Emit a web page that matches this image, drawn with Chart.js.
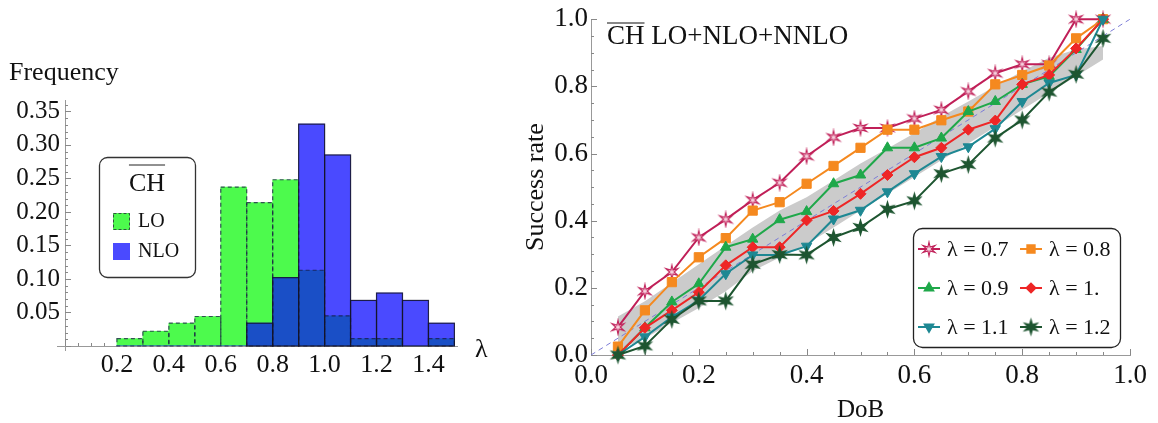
<!DOCTYPE html>
<html>
<head>
<meta charset="utf-8">
<script src="https://cdn.jsdelivr.net/npm/chart.js@4.4.1/dist/chart.umd.min.js"></script>
<style>
  body { margin: 0; background: #fff; width: 1158px; height: 423px; overflow: hidden; position: relative; }
  canvas { position: absolute; top: 0; }
  #hist { left: 0; }
  #rate { left: 500px; }
</style>
</head>
<body>
<canvas id="hist" width="500" height="423"></canvas>
<canvas id="rate" width="658" height="423"></canvas>
<script>
// ---- left panel: lambda histogram ----
const binCenters = [0.25, 0.35, 0.45, 0.55, 0.65, 0.75, 0.85, 0.95, 1.05, 1.15, 1.25, 1.35, 1.45];
const loFreq  = [0.011, 0.022, 0.034, 0.044, 0.237, 0.214, 0.248, 0.113, 0.045, 0.011, 0.011, 0, 0.011];
const nloFreq = [0, 0, 0, 0, 0, 0.034, 0.102, 0.331, 0.285, 0.068, 0.079, 0.068, 0.034];
const histXTicks = [0.2, 0.4, 0.6, 0.8, 1.0, 1.2, 1.4];
const histYTicks = [0.05, 0.10, 0.15, 0.20, 0.25, 0.30, 0.35];

// ---- right panel: success rate vs DoB ----
const dob = [0.05, 0.10, 0.15, 0.20, 0.25, 0.30, 0.35, 0.40, 0.45, 0.50, 0.55, 0.60, 0.65, 0.70, 0.75, 0.80, 0.85, 0.90, 0.95];
const rate07 = [0.083, 0.190, 0.247, 0.350, 0.404, 0.461, 0.513, 0.592, 0.648, 0.676, 0.676, 0.704, 0.730, 0.785, 0.839, 0.866, 0.866, 1.0, 1.0];
const rate08 = [0.025, 0.133, 0.217, 0.291, 0.348, 0.430, 0.455, 0.510, 0.563, 0.617, 0.671, 0.671, 0.699, 0.725, 0.806, 0.834, 0.862, 0.943, 1.0];
const rate09 = [0.0, 0.081, 0.158, 0.212, 0.321, 0.345, 0.403, 0.427, 0.510, 0.536, 0.617, 0.617, 0.646, 0.725, 0.755, 0.806, 0.830, 0.910, 1.0];
const rate10 = [0.0, 0.081, 0.133, 0.187, 0.267, 0.321, 0.321, 0.401, 0.429, 0.480, 0.536, 0.589, 0.617, 0.671, 0.698, 0.806, 0.834, 0.913, 1.0];
const rate11 = [0.0, 0.054, 0.113, 0.163, 0.242, 0.298, 0.298, 0.324, 0.405, 0.431, 0.486, 0.540, 0.591, 0.620, 0.674, 0.755, 0.810, 0.834, 1.0];
const rate12 = [0.0, 0.027, 0.106, 0.161, 0.161, 0.270, 0.299, 0.298, 0.350, 0.380, 0.434, 0.459, 0.540, 0.567, 0.646, 0.700, 0.783, 0.836, 0.943];
const bandLow  = [0.015, 0.05, 0.095, 0.14, 0.19, 0.25, 0.29, 0.33, 0.38, 0.43, 0.48, 0.53, 0.58, 0.63, 0.68, 0.73, 0.78, 0.83, 0.88];
const bandHigh = [0.115, 0.16, 0.215, 0.27, 0.325, 0.38, 0.43, 0.47, 0.52, 0.57, 0.615, 0.66, 0.71, 0.755, 0.80, 0.845, 0.885, 0.91, 0.92];
const diagX = [0, 1];
const diagY = [0, 1];
const rateTicks = [0, 0.2, 0.4, 0.6, 0.8, 1.0];
const lambdaLabels = ['0.7', '0.8', '0.9', '1.', '1.1', '1.2'];

const SERIF = '"Liberation Serif", "Times New Roman", serif';
Chart.defaults.font.family = SERIF;
Chart.defaults.color = '#111';

// star shaped markers
function starCanvas(points, rOut, rIn, fill, stroke, lw) {
  const size = Math.ceil(2 * rOut + 4);
  const c = document.createElement('canvas');
  c.width = c.height = size;
  const g = c.getContext('2d');
  g.translate(size / 2, size / 2);
  g.beginPath();
  for (let i = 0; i < points * 2; i++) {
    const r = i % 2 ? rIn : rOut;
    const a = -Math.PI / 2 + i * Math.PI / points;
    g.lineTo(r * Math.cos(a), r * Math.sin(a));
  }
  g.closePath();
  g.fillStyle = fill;
  g.fill();
  if (lw) { g.strokeStyle = stroke; g.lineWidth = lw; g.stroke(); }
  return c;
}
const thinStar = starCanvas(6, 7, 2.2, '#f6d3df', '#c01f58', 1.1);
const bigStar = starCanvas(6, 9.5, 3.8, '#1d5530', '#1d5530', 0);

// inward Mathematica-like tick marks
const inTicks = {
  id: 'inTicks',
  beforeDatasetsDraw(chart, args, o) {
    const { ctx, chartArea: a, scales: { x, y } } = chart;
    ctx.save();
    ctx.strokeStyle = o.color;
    ctx.lineWidth = 1;
    const run = (scale, step, len, vert) => {
      const i0 = Math.ceil(scale.min / step - 1e-6), i1 = Math.floor(scale.max / step + 1e-6);
      for (let i = i0; i <= i1; i++) {
        const p = Math.round(scale.getPixelForValue(i * step)) + 0.5;
        ctx.beginPath();
        if (vert) { ctx.moveTo(a.left, p); ctx.lineTo(a.left + len, p); }
        else { ctx.moveTo(p, a.bottom); ctx.lineTo(p, a.bottom - len); }
        ctx.stroke();
      }
    };
    run(x, o.xMinor, 3, false); run(x, o.xMajor, 6, false);
    run(y, o.yMinor, 3, true); run(y, o.yMajor, 6, true);
    ctx.restore();
  }
};

function roundRect(ctx, x, y, w, h, r) {
  ctx.beginPath();
  ctx.moveTo(x + r, y);
  ctx.arcTo(x + w, y, x + w, y + h, r);
  ctx.arcTo(x + w, y + h, x, y + h, r);
  ctx.arcTo(x, y + h, x, y, r);
  ctx.arcTo(x, y, x + w, y, r);
  ctx.closePath();
}

function overlined(ctx, text, x, y, gap) {
  ctx.fillText(text, x, y);
  const w = ctx.measureText(text).width;
  const left = ctx.textAlign === 'center' ? x - w / 2 : x;
  ctx.beginPath();
  ctx.moveTo(left, y - gap);
  ctx.lineTo(left + w, y - gap);
  ctx.stroke();
}

// bar outlines: dashed for LO, solid for NLO
const histEdges = {
  id: 'histEdges',
  afterDatasetsDraw(chart) {
    const ctx = chart.ctx;
    const edge = (di, dash, color) => {
      chart.getDatasetMeta(di).data.forEach(b => {
        const { x, y, base, width } = b.getProps(['x', 'y', 'base', 'width'], true);
        if (Math.abs(base - y) < 0.5) return;
        ctx.setLineDash(dash);
        ctx.strokeStyle = color;
        ctx.strokeRect(x - width / 2, y, width, base - y);
      });
    };
    ctx.save();
    ctx.lineWidth = 1.2;
    edge(0, [4, 3], 'rgba(25,25,70,0.75)');
    edge(1, [], 'rgba(20,20,40,0.85)');
    ctx.restore();
  }
};

const histText = {
  id: 'histText',
  afterDraw(chart) {
    const { ctx, chartArea: a } = chart;
    ctx.save();
    // axes run a little past the origin, as in the original
    ctx.strokeStyle = '#999';
    ctx.lineWidth = 1;
    ctx.beginPath();
    ctx.moveTo(a.left - 8, a.bottom + 0.5);
    ctx.lineTo(a.left, a.bottom + 0.5);
    ctx.moveTo(a.left + 0.5, a.bottom);
    ctx.lineTo(a.left + 0.5, a.bottom + 5);
    ctx.stroke();
    ctx.fillStyle = '#111';
    ctx.font = '26px ' + SERIF;
    ctx.textBaseline = 'middle';
    ctx.fillText('Frequency', 9, 73);
    ctx.fillText('λ', 475, 350);
    // legend
    ctx.strokeStyle = '#333';
    ctx.lineWidth = 1.3;
    roundRect(ctx, 99.5, 157.5, 96, 120, 8);
    ctx.stroke();
    ctx.textAlign = 'center';
    ctx.textBaseline = 'alphabetic';
    ctx.lineWidth = 1;
    ctx.strokeStyle = '#222';
    overlined(ctx, 'CH', 147, 191, 26);
    ctx.fillStyle = '#4dfa4d';
    ctx.fillRect(113, 213, 17, 17);
    ctx.setLineDash([3, 2]);
    ctx.strokeStyle = 'rgba(40,40,60,0.8)';
    ctx.strokeRect(113.5, 213.5, 16, 16);
    ctx.setLineDash([]);
    ctx.fillStyle = '#4a4aff';
    ctx.fillRect(113, 243, 17, 17);
    ctx.fillStyle = '#111';
    ctx.textAlign = 'left';
    ctx.textBaseline = 'middle';
    ctx.font = '20px ' + SERIF;
    ctx.fillText('LO', 138, 222);
    ctx.fillText('NLO', 138, 252);
    ctx.restore();
  }
};

new Chart(document.getElementById('hist'), {
  type: 'bar',
  data: {
    datasets: [
      { label: 'LO', data: binCenters.map((c, i) => ({ x: c, y: loFreq[i] })),
        backgroundColor: '#4dfa4d', borderWidth: 0, order: 3 },
      { label: 'NLO', data: binCenters.map((c, i) => ({ x: c, y: nloFreq[i] })),
        backgroundColor: '#4a4aff', borderWidth: 0, order: 2 },
      { label: 'overlap', data: binCenters.map((c, i) => ({ x: c, y: Math.min(loFreq[i], nloFreq[i]) })),
        backgroundColor: '#1a4fc6', borderWidth: 0, order: 1 }
    ]
  },
  options: {
    responsive: false,
    animation: false,
    layout: { padding: { left: 0, right: 43, top: 100, bottom: 0 } },
    datasets: { bar: { grouped: false, barPercentage: 1, categoryPercentage: 1 } },
    plugins: {
      legend: { display: false },
      tooltip: { enabled: false },
      inTicks: { color: '#888', xMajor: 0.2, xMinor: 0.05, yMajor: 0.05, yMinor: 0.01 }
    },
    scales: {
      x: {
        type: 'linear', min: 0, max: 1.51, offset: false,
        grid: { display: false, drawTicks: false },
        border: { display: true, color: '#999', width: 1 },
        afterBuildTicks: s => { s.ticks = histXTicks.map(v => ({ value: v })); },
        ticks: { callback: v => v.toFixed(1), font: { size: 26 }, color: '#111', padding: 4, maxRotation: 0, autoSkip: false },
        afterFit: s => { s.height = 77; }
      },
      y: {
        type: 'linear', min: 0, max: 0.367,
        grid: { display: false, drawTicks: false },
        border: { display: true, color: '#999', width: 1 },
        afterBuildTicks: s => { s.ticks = histYTicks.map(v => ({ value: v })); },
        ticks: { callback: v => v.toFixed(2), font: { size: 25 }, color: '#111', padding: 5, autoSkip: false },
        afterFit: s => { s.width = 65; }
      }
    }
  },
  plugins: [inTicks, histEdges, histText]
});

// ---- right chart ----
const rateSeries = [
  { data: rate07, color: '#c01f58', style: thinStar, radius: 7 },
  { data: rate08, color: '#f5891f', style: 'rect', radius: 6.5 },
  { data: rate09, color: '#1fa84a', style: 'triangle', radius: 6 },
  { data: rate10, color: '#ee2626', style: 'rectRot', radius: 5.5 },
  { data: rate11, color: '#1e8893', style: 'triangle', radius: 6, rot: 180 },
  { data: rate12, color: '#1d5530', style: bigStar, radius: 9 }
];

const rateDecor = {
  id: 'rateDecor',
  afterDraw(chart) {
    const ctx = chart.ctx;
    ctx.save();
    ctx.fillStyle = '#111';
    ctx.strokeStyle = '#111';
    ctx.lineWidth = 1.2;
    ctx.font = '27px ' + SERIF;
    ctx.textBaseline = 'alphabetic';
    overlined(ctx, 'CH', 107, 44, 21);
    const w = ctx.measureText('CH ').width;
    ctx.fillText('LO+NLO+NNLO', 107 + w, 44);
    // legend box
    ctx.strokeStyle = '#222';
    ctx.lineWidth = 1.3;
    roundRect(ctx, 413.5, 228.5, 207, 119, 9);
    ctx.stroke();
    ctx.font = '22px ' + SERIF;
    ctx.textBaseline = 'middle';
    rateSeries.forEach((s, i) => {
      const col = i % 2, row = Math.floor(i / 2);
      const mx = col ? 531 : 429;
      const my = 249 + row * 39;
      ctx.strokeStyle = s.color;
      ctx.fillStyle = s.color;
      ctx.lineWidth = 2;
      ctx.beginPath();
      ctx.moveTo(mx - 11, my);
      ctx.lineTo(mx + 11, my);
      ctx.stroke();
      if (Chart.helpers && Chart.helpers.drawPoint) {
        Chart.helpers.drawPoint(ctx, { pointStyle: s.style, radius: s.radius * 0.8, rotation: s.rot || 0, borderWidth: 1 }, mx, my);
      }
      ctx.fillStyle = '#111';
      ctx.fillText('λ = ' + lambdaLabels[i], mx + 18, my + 1);
    });
    ctx.restore();
  }
};

const lineSets = rateSeries.map((s, k) => ({
  label: 'λ = ' + lambdaLabels[k],
  data: dob.map((x, i) => ({ x: x, y: s.data[i] })),
  borderColor: s.color,
  backgroundColor: s.color,
  borderWidth: 2,
  pointStyle: s.style,
  pointRadius: s.radius,
  pointRotation: s.rot || 0,
  pointBorderWidth: 1,
  fill: false,
  clip: false,
  order: 6 - k
}));

new Chart(document.getElementById('rate'), {
  type: 'line',
  data: {
    datasets: [
      ...lineSets,
      { label: 'diag', data: diagX.map((x, i) => ({ x: x, y: diagY[i] })),
        borderColor: '#7c7cd6', borderWidth: 1, borderDash: [5, 4], pointRadius: 0, fill: false, order: 8 },
      { label: 'bandHigh', data: dob.map((x, i) => ({ x: x, y: bandHigh[i] })),
        borderWidth: 0, pointRadius: 0, fill: '+1', backgroundColor: '#cbcbcb', order: 9 },
      { label: 'bandLow', data: dob.map((x, i) => ({ x: x, y: bandLow[i] })),
        borderWidth: 0, pointRadius: 0, fill: false, order: 10 }
    ]
  },
  options: {
    responsive: false,
    animation: false,
    layout: { padding: { left: 0, right: 28, top: 17, bottom: 0 } },
    plugins: {
      legend: { display: false },
      tooltip: { enabled: false },
      inTicks: { color: '#888', xMajor: 0.2, xMinor: 0.05, yMajor: 0.2, yMinor: 0.05 }
    },
    scales: {
      x: {
        type: 'linear', min: 0, max: 1,
        grid: { display: false, drawTicks: false },
        border: { display: true, color: '#999', width: 1 },
        afterBuildTicks: s => { s.ticks = rateTicks.map(v => ({ value: v })); },
        ticks: { callback: v => v.toFixed(1), font: { size: 27 }, color: '#111', padding: 5, maxRotation: 0, autoSkip: false },
        title: { display: true, text: 'DoB', font: { size: 25, lineHeight: 1 }, color: '#111', padding: { top: 0, bottom: 0 } },
        afterFit: s => { s.height = 68; }
      },
      y: {
        type: 'linear', min: 0, max: 1,
        grid: { display: false, drawTicks: false },
        border: { display: true, color: '#999', width: 1 },
        afterBuildTicks: s => { s.ticks = rateTicks.map(v => ({ value: v })); },
        ticks: { callback: v => v.toFixed(1), font: { size: 27 }, color: '#111', padding: 3, autoSkip: false },
        title: { display: true, text: 'Success rate', font: { size: 26, lineHeight: 1 }, color: '#111', padding: { top: 23, bottom: 0 } },
        afterFit: s => { s.width = 91; }
      }
    }
  },
  plugins: [inTicks, rateDecor]
});
</script>
</body>
</html>
